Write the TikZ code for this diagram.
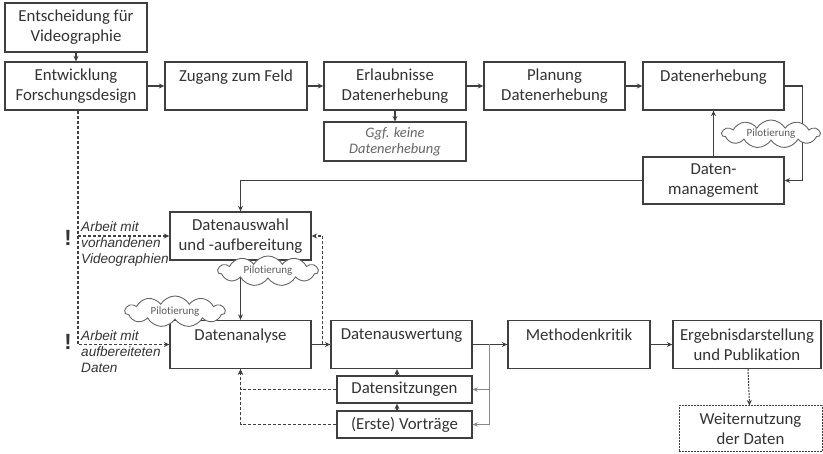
\documentclass[tikz,border=0pt]{standalone}
\usepackage{fontspec}
\setmainfont{Carlito}[Ligatures={NoCommon}]
\newfontfamily\arialfont{Liberation Sans}
\usetikzlibrary{shapes.symbols,arrows.meta,calc}
\definecolor{ln}{HTML}{3F3F3F}
\definecolor{txt}{HTML}{333333}
\definecolor{gry}{HTML}{8A8A8A}
\begin{document}
\begin{tikzpicture}[x=1pt,y=-1pt,
  box/.style={draw=ln, line width=1.35pt, rectangle, inner sep=0pt, align=center, text=txt,
    font=\fontsize{16.8}{20}\selectfont, minimum width=142pt, minimum height=48pt, fill=white},
  smallbox/.style={box, minimum width=135pt, minimum height=27pt},
  conn/.style={draw=ln, line width=1.35pt, -{Stealth[length=5.5pt,width=5pt]}},
  dconn/.style={conn, dash pattern=on 3pt off 2pt},
  gconn/.style={draw=gry, line width=0.9pt, -{Stealth[length=5pt,width=4.5pt]}},
  cloudn/.style={cloud, cloud puffs=11, cloud puff arc=120, cloud ignores aspect, draw=ln!80,
    fill=white, line width=0.9pt, minimum width=100pt, minimum height=30pt,
    font=\fontsize{11}{13}\selectfont, text=ln!85, inner sep=0pt},
  lab/.style={anchor=north west, inner sep=0pt, align=left, text=txt,
    font=\arialfont\itshape\fontsize{13.6}{16}\selectfont},
  excl/.style={anchor=base, inner sep=0pt, text=txt, font=\arialfont\bfseries\fontsize{22}{24}\selectfont}
]
\useasboundingbox (0,0) rectangle (823,454);

% top row
\node[box, minimum height=49pt] (A) at (76,27.5) {Entscheidung für\\Videographie};
\node[box] (B) at (76,86) {Entwicklung\\Forschungsdesign};
\node[box] (C) at (236,86) {Zugang zum Feld\\~};
\node[box] (D) at (395,86) {Erlaubnisse\\Datenerhebung};
\node[box, minimum height=39pt, line width=1.1pt, text=txt!75, font=\itshape\fontsize{14.5}{16.5}\selectfont] (E) at (395,141.5) {Ggf. keine\\Datenerhebung};
\node[box, minimum width=141pt] (F) at (554.5,86) {Planung\\Datenerhebung};
\node[box, minimum width=141pt] (G) at (713.5,86) {Datenerhebung\\~};
\node[box, minimum width=141pt, minimum height=47pt] (H) at (713.5,180.5) {Daten-\\management};

% middle
\node[box, minimum width=141pt] (I) at (240.5,236) {Datenauswahl\\und -aufbereitung};
\node[box, minimum width=141pt] (J) at (240.5,344.5) {Datenanalyse\\~};
\node[box, minimum width=141pt] (K) at (401.5,344.5) {Datenauswertung\\~};
\node[box] (L) at (579,344.5) {Methodenkritik\\~};
\node[box, minimum width=148pt] (M) at (747,344.5) {Ergebnisdarstellung\\und Publikation};
\node[box, minimum width=143pt, minimum height=46pt, dash pattern=on 2pt off 1pt, line width=1pt] (N) at (750.5,429) {Weiternutzung\\der Daten};
\node[smallbox] (O) at (404.5,389.5) {Datensitzungen};
\node[smallbox] (P) at (404.5,424.5) {(Erste) Vorträge};

% labels
\node[lab] (l1) at (81,221.5) {Arbeit mit\\vorhandenen\\Videographien};
\node[lab] (l2) at (81,330.5) {Arbeit mit\\aufbereiteten\\Daten};
\node[excl] (x1) at (68,246) {!};
\node[excl] (x2) at (68,350) {!};

% connectors top
\draw[conn] (A) -- (B);
\draw[conn] (B) -- (C);
\draw[conn] (C) -- (D);
\draw[conn] (D) -- (F);
\draw[conn] (F) -- (G);
\draw[conn] (D) -- (E);
\draw[conn] (G.east) -- ++(18,0) |- (H.east);
\draw[conn] (H) -- (G);
\draw[conn] (H.west) -| (I.north);

% middle connectors
\draw[conn] (I) -- (J);
\draw[conn] (J) -- (K);
\draw[conn] (K) -- (L);
\draw[conn] (L) -- (M);
\draw[dconn, line width=1pt, dash pattern=on 2pt off 1pt] (M) -- (N);
\coordinate (kl) at ($(K.east)+(17,0)$);
\draw[gconn] (kl) |- (P.east);
\draw[gconn] (kl |- O.east) -- (O.east);
\draw[conn] ([xshift=-7.5pt]O.north) -- ([xshift=-7.5pt]O.north |- K.south);
\draw[conn] ([xshift=-7.5pt]P.north) -- ([xshift=-7.5pt]P.north |- O.south);
\draw[dconn] (O.west) -- (O.west -| J.south) -- (J.south);
\draw[dconn] (P.west) -| (J.south);
\coordinate (jk) at ($(K.west)+(-8,0)$);
\draw[dconn] (jk) |- (I.east);
\coordinate (bd) at ($(B.south)+(2,0)$);
\draw[dconn] (bd) |- (J.west);
\draw[dconn] (bd |- I.west) -- (I.west);

% clouds
\node[cloudn, minimum width=98pt, minimum height=28pt] (c1) at (771,134) {Pilotierung};
\node[cloudn] (c2) at (268,271) {Pilotierung};
\node[cloudn, minimum height=31pt] (c3) at (175,311.5) {Pilotierung};
\end{tikzpicture}
\end{document}
